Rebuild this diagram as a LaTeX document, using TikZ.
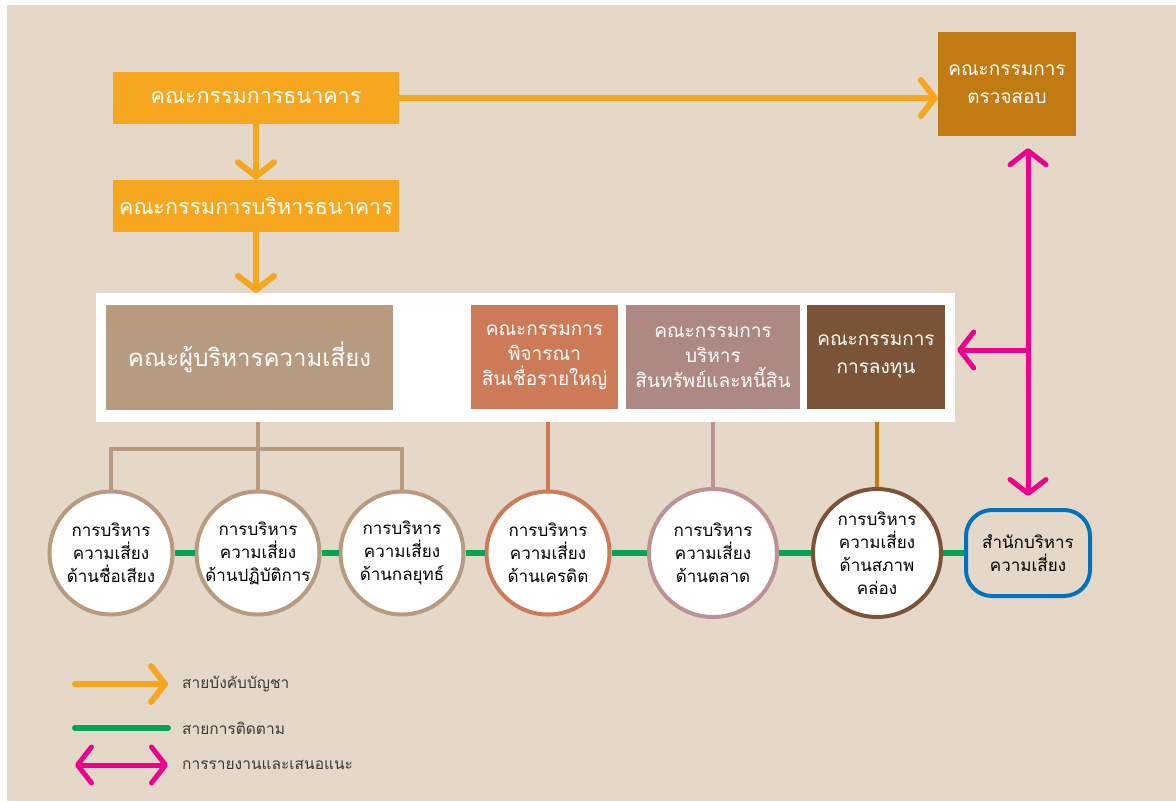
\documentclass[tikz,border=0pt]{standalone}
\usepackage{fontspec}
\setmainfont[Script=Thai]{Loma}
\usetikzlibrary{arrows.meta}
\definecolor{bgbeige}{HTML}{E5D8C8}
\definecolor{bankorange}{HTML}{F6A61F}
\definecolor{auditgold}{HTML}{C27B12}
\definecolor{risktan}{HTML}{B79A80}
\definecolor{creditclay}{HTML}{CC7A58}
\definecolor{almrose}{HTML}{AE8882}
\definecolor{almring}{HTML}{BD9196}
\definecolor{investbrown}{HTML}{7B5337}
\definecolor{reportpink}{HTML}{EC008C}
\definecolor{followgreen}{HTML}{00A651}
\definecolor{officeblue}{HTML}{0072BC}
\definecolor{legendgray}{HTML}{3A3A3A}
\begin{document}
\begin{tikzpicture}[x=1pt, y=-1pt,
  chevron/.tip={Straight Barb[length=14pt,width=36pt,round]},
  cbox/.style={fill=#1, text=white, inner sep=0pt, align=center},
  ring/.style={circle, draw=#1, fill=white, line width=4pt, minimum size=123pt,
    inner sep=0pt, align=center, font=\fontsize{17}{23}\selectfont},
  command/.style={draw=bankorange, line width=6pt, line cap=round, -chevron},
  report/.style={draw=reportpink, line width=5pt, line cap=round, chevron-chevron},
  follow/.style={draw=followgreen, line width=6pt},
  link/.style={draw=#1, line width=4pt},
  legend/.style={anchor=west, inner sep=0pt, text=legendgray, font=\fontsize{15.5}{18}\selectfont}]
\useasboundingbox (0,0) rectangle (1176,801);
\fill[bgbeige] (7,5) rectangle (1176,801);

% committees
\node [cbox=bankorange, minimum width=286pt, minimum height=52pt,
  font=\fontsize{21.5}{26}\selectfont] (board) at (256,98) {คณะกรรมการธนาคาร};
\node [cbox=bankorange, minimum width=286pt, minimum height=52pt,
  font=\fontsize{21.5}{26}\selectfont] (exec) at (256,205.5) {คณะกรรมการบริหารธนาคาร};
\node [cbox=auditgold, minimum width=138pt, minimum height=104pt,
  font=\fontsize{19}{28}\selectfont] (audit) at (1007,84) {คณะกรรมการ\\ตรวจสอบ};
\node [fill=white, minimum width=859pt, minimum height=129pt] (panel) at (525.5,357.5) {};
\node [cbox=risktan, minimum width=287pt, minimum height=105pt,
  font=\fontsize{24}{28}\selectfont] (riskcom) at (249.5,357.5) {คณะผู้บริหารความเสี่ยง};
\node [cbox=creditclay, minimum width=147pt, minimum height=104pt,
  font=\fontsize{19}{25}\selectfont] (credit) at (544.5,357) {คณะกรรมการ\\พิจารณา\\สินเชื่อรายใหญ่};
\node [cbox=almrose, minimum width=174pt, minimum height=104pt,
  font=\fontsize{19}{25}\selectfont] (alm) at (713,357) {คณะกรรมการ\\บริหาร\\สินทรัพย์และหนี้สิน};
\node [cbox=investbrown, minimum width=138pt, minimum height=104pt,
  font=\fontsize{19}{28}\selectfont] (invest) at (876,357) {คณะกรรมการ\\การลงทุน};

% risk units
\node [ring=risktan] (rep) at (111,553) {การบริหาร\\ความเสี่ยง\\ด้านชื่อเสียง};
\node [ring=risktan] (ops) at (258,553) {การบริหาร\\ความเสี่ยง\\ด้านปฏิบัติการ};
\node [ring=risktan] (strat) at (402,553) {การบริหาร\\ความเสี่ยง\\ด้านกลยุทธ์};
\node [ring=creditclay] (crisk) at (548,553) {การบริหาร\\ความเสี่ยง\\ด้านเครดิต};
\node [ring=almring, minimum size=128pt] (mrisk) at (713,553) {การบริหาร\\ความเสี่ยง\\ด้านตลาด};
\node [ring=investbrown, minimum size=128pt] (lrisk) at (877,553) {การบริหาร\\ความเสี่ยง\\ด้านสภาพ\\คล่อง};
\node [draw=officeblue, fill=bgbeige, line width=4pt, rounded corners=26pt,
  minimum width=124pt, minimum height=86pt, align=center,
  font=\fontsize{17}{23}\selectfont] (office) at (1028,553) {สำนักบริหาร\\ความเสี่ยง};

% lines
\foreach \a/\b in {rep/ops, ops/strat, strat/crisk, crisk/mrisk, mrisk/lrisk, lrisk/office}
  \draw [follow] (\a.east) -- (\b.west);
\draw [link=risktan] (ops.north |- panel.south) -- ++(0,27) coordinate (fork);
\draw [link=risktan] (rep.north) |- (fork) -| (strat.north);
\draw [link=risktan] (fork) -- (ops.north);
\draw [link=creditclay] (crisk.north |- panel.south) -- (crisk.north);
\draw [link=almring] (mrisk.north |- panel.south) -- (mrisk.north);
\draw [link=auditgold] (lrisk.north |- panel.south) -- (lrisk.north);

\draw [command] (board.east) -- (board.east -| audit.west);
\draw [command] (board.south) -- (exec.north);
\draw [command] (exec.south) -- (exec.south |- panel.north);
\draw [report, shorten <=12pt, shorten >=12pt] (office.north |- audit.south) -- (office.north);
\coordinate (junction) at (1028,350);
\draw [report, -chevron, shorten >=2pt] (junction) -- (junction -| panel.east);

% legend
\node [legend] (lgcmd) at (182,684) {สายบังคับบัญชา};
\node [legend] (lgfollow) at (182,728) {สายการติดตาม};
\node [legend] (lgreport) at (182,765) {การรายงานและเสนอแนะ};
\coordinate (lgcmdstart) at (75,684);
\coordinate (lgfollowstart) at (75,728);
\coordinate (lgreportstart) at (75,765);
\draw [command] (lgcmdstart) -- ([xshift=-14pt]lgcmd.west);
\draw [follow, line cap=round] (lgfollowstart) -- ([xshift=-14pt]lgfollow.west);
\draw [report] (lgreportstart) -- ([xshift=-14pt]lgreport.west);
\end{tikzpicture}
\end{document}
